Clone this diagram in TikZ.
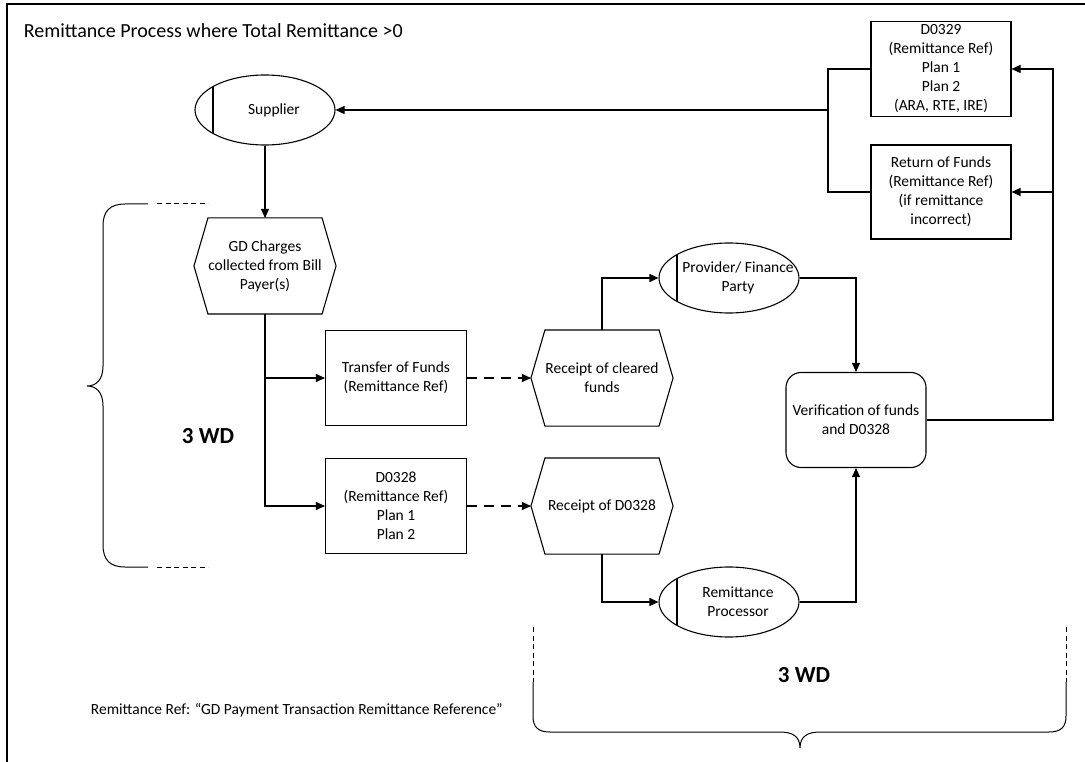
\documentclass[tikz,border=0pt]{standalone}
\usepackage{fontspec}
\setmainfont{Carlito}
\usetikzlibrary{arrows.meta}
\usetikzlibrary{shapes.geometric}
\usetikzlibrary{positioning}

\begin{document}
\begin{tikzpicture}[x=1pt, y=-1pt, line width=1.1pt,
    every node/.style={font=\fontsize{15.5}{19}\selectfont, align=center},
    box/.style={draw, minimum width=141pt, minimum height=95pt, inner sep=2pt},
    hexbox/.style={minimum width=141pt, minimum height=95pt, inner sep=2pt},
    party/.style={draw, ellipse, minimum width=140pt, minimum height=70pt, inner sep=0pt},
    flow/.style={-{Triangle[length=9pt,width=8pt]}},
    wd/.style={font=\fontsize{23}{26}\selectfont\bfseries},
    tick/.style={line width=1pt, dash pattern=on 5pt off 3.5pt}]
    \useasboundingbox (0,0) rectangle (1085,762);
    \draw (7,762) -- (7,4) -- (1085,4);

    \node[anchor=base west, font=\fontsize{20}{24}\selectfont] (title) at (20,38) {Remittance Process where Total Remittance >0};

    % parties
    \node[party, label={[xshift=9pt]center:Supplier}] (sup) at (265,110) {};
    \node[party, label={[xshift=9pt]center:{Provider/ Finance\\Party}}] (pro) at (729,278) {};
    \node[party, label={[xshift=9pt]center:{Remittance\\Processor}}] (rp) at (729,602) {};
    \foreach \e in {sup,pro,rp}
      \draw ([shift={(-52,-23.4)}]\e.center) -- ([shift={(-52,23.4)}]\e.center);

    % hexagons
    \node[hexbox] (gd) at (265,266) {GD Charges\\collected from Bill\\Payer(s)};
    \node[hexbox] (rcf) at (602,378) {Receipt of cleared\\funds};
    \node[hexbox] (rd28) at (602,506) {Receipt of D0328};
    \foreach \h in {gd,rcf,rd28}
      \draw ([xshift=14pt]\h.north west) -- ([xshift=-14pt]\h.north east) -- (\h.east)
        -- ([xshift=-14pt]\h.south east) -- ([xshift=14pt]\h.south west) -- (\h.west) -- cycle;

    % boxes
    \node[box] (tof) at (396,378) {Transfer of Funds\\(Remittance Ref)};
    \node[box] (d28) at (396,506) {D0328\\(Remittance Ref)\\Plan 1\\Plan 2};
    \node[box, rounded corners=15pt, minimum width=140pt] (ver) at (856,420) {Verification of funds\\and D0328};
    \node[box, minimum width=140pt] (d29) at (941,69) {D0329\\(Remittance Ref)\\Plan 1\\Plan 2\\(ARA, RTE, IRE)};
    \node[box, minimum width=140pt, minimum height=94pt] (ret) at (941,192) {Return of Funds\\(Remittance Ref)\\(if remittance\\incorrect)};

    % connectors
    \coordinate (join) at (828,110);
    \coordinate (rtop) at (1053,69);
    \draw[flow] (sup.south) -- (gd.north);
    \draw[flow] (gd.south) |- (tof.west);
    \draw[flow] (gd.south) |- (d28.west);
    \draw[flow, dash pattern=on 10pt off 7pt] (tof.east) -- (rcf.west);
    \draw[flow, dash pattern=on 10pt off 7pt] (d28.east) -- (rd28.west);
    \draw[flow] (rcf.north) |- (pro.west);
    \draw[flow] (pro.east) -| (ver.north);
    \draw[flow] (rd28.south) |- (rp.west);
    \draw[flow] (rp.east) -| (ver.south);
    \draw[flow] (ver.east) -| (rtop) -- (d29.east);
    \draw[flow] (ver.east -| rtop) |- (ret.east);
    \draw (d29.west) -| (join) |- (ret.west);
    \draw[flow] (join) -- (sup.east);

    % working day braces
    \draw[line width=1pt] (148,204) -- (125,204) .. controls (110,204) and (103,211) .. (103,226)
      -- (103,366) .. controls (103,380) and (96,386) .. (87,386)
      .. controls (96,386) and (103,392) .. (103,406)
      -- (103,545) .. controls (103,560) and (110,567) .. (125,567) -- (148,567);
    \draw[tick] (157,204) -- (208,204);
    \draw[tick] (157,567) -- (208,567);
    \node[wd] (wdleft) at (208,436) {3 WD};

    \draw[tick] (533,627) -- (533,682);
    \draw[tick] (1066,627) -- (1066,682);
    \draw[line width=1pt] (533,682) -- (533,716) .. controls (533,727) and (538,732) .. (550,732)
      -- (780,732) .. controls (792,732) and (800,736) .. (800,748)
      .. controls (800,736) and (808,732) .. (820,732)
      -- (1049,732) .. controls (1061,732) and (1066,727) .. (1066,716) -- (1066,682);
    \node[wd] (wdbot) at (804,675) {3 WD};

    \node[anchor=west] (note) at (87,710) {Remittance Ref: “GD Payment Transaction Remittance Reference”};
\end{tikzpicture}
\end{document}
